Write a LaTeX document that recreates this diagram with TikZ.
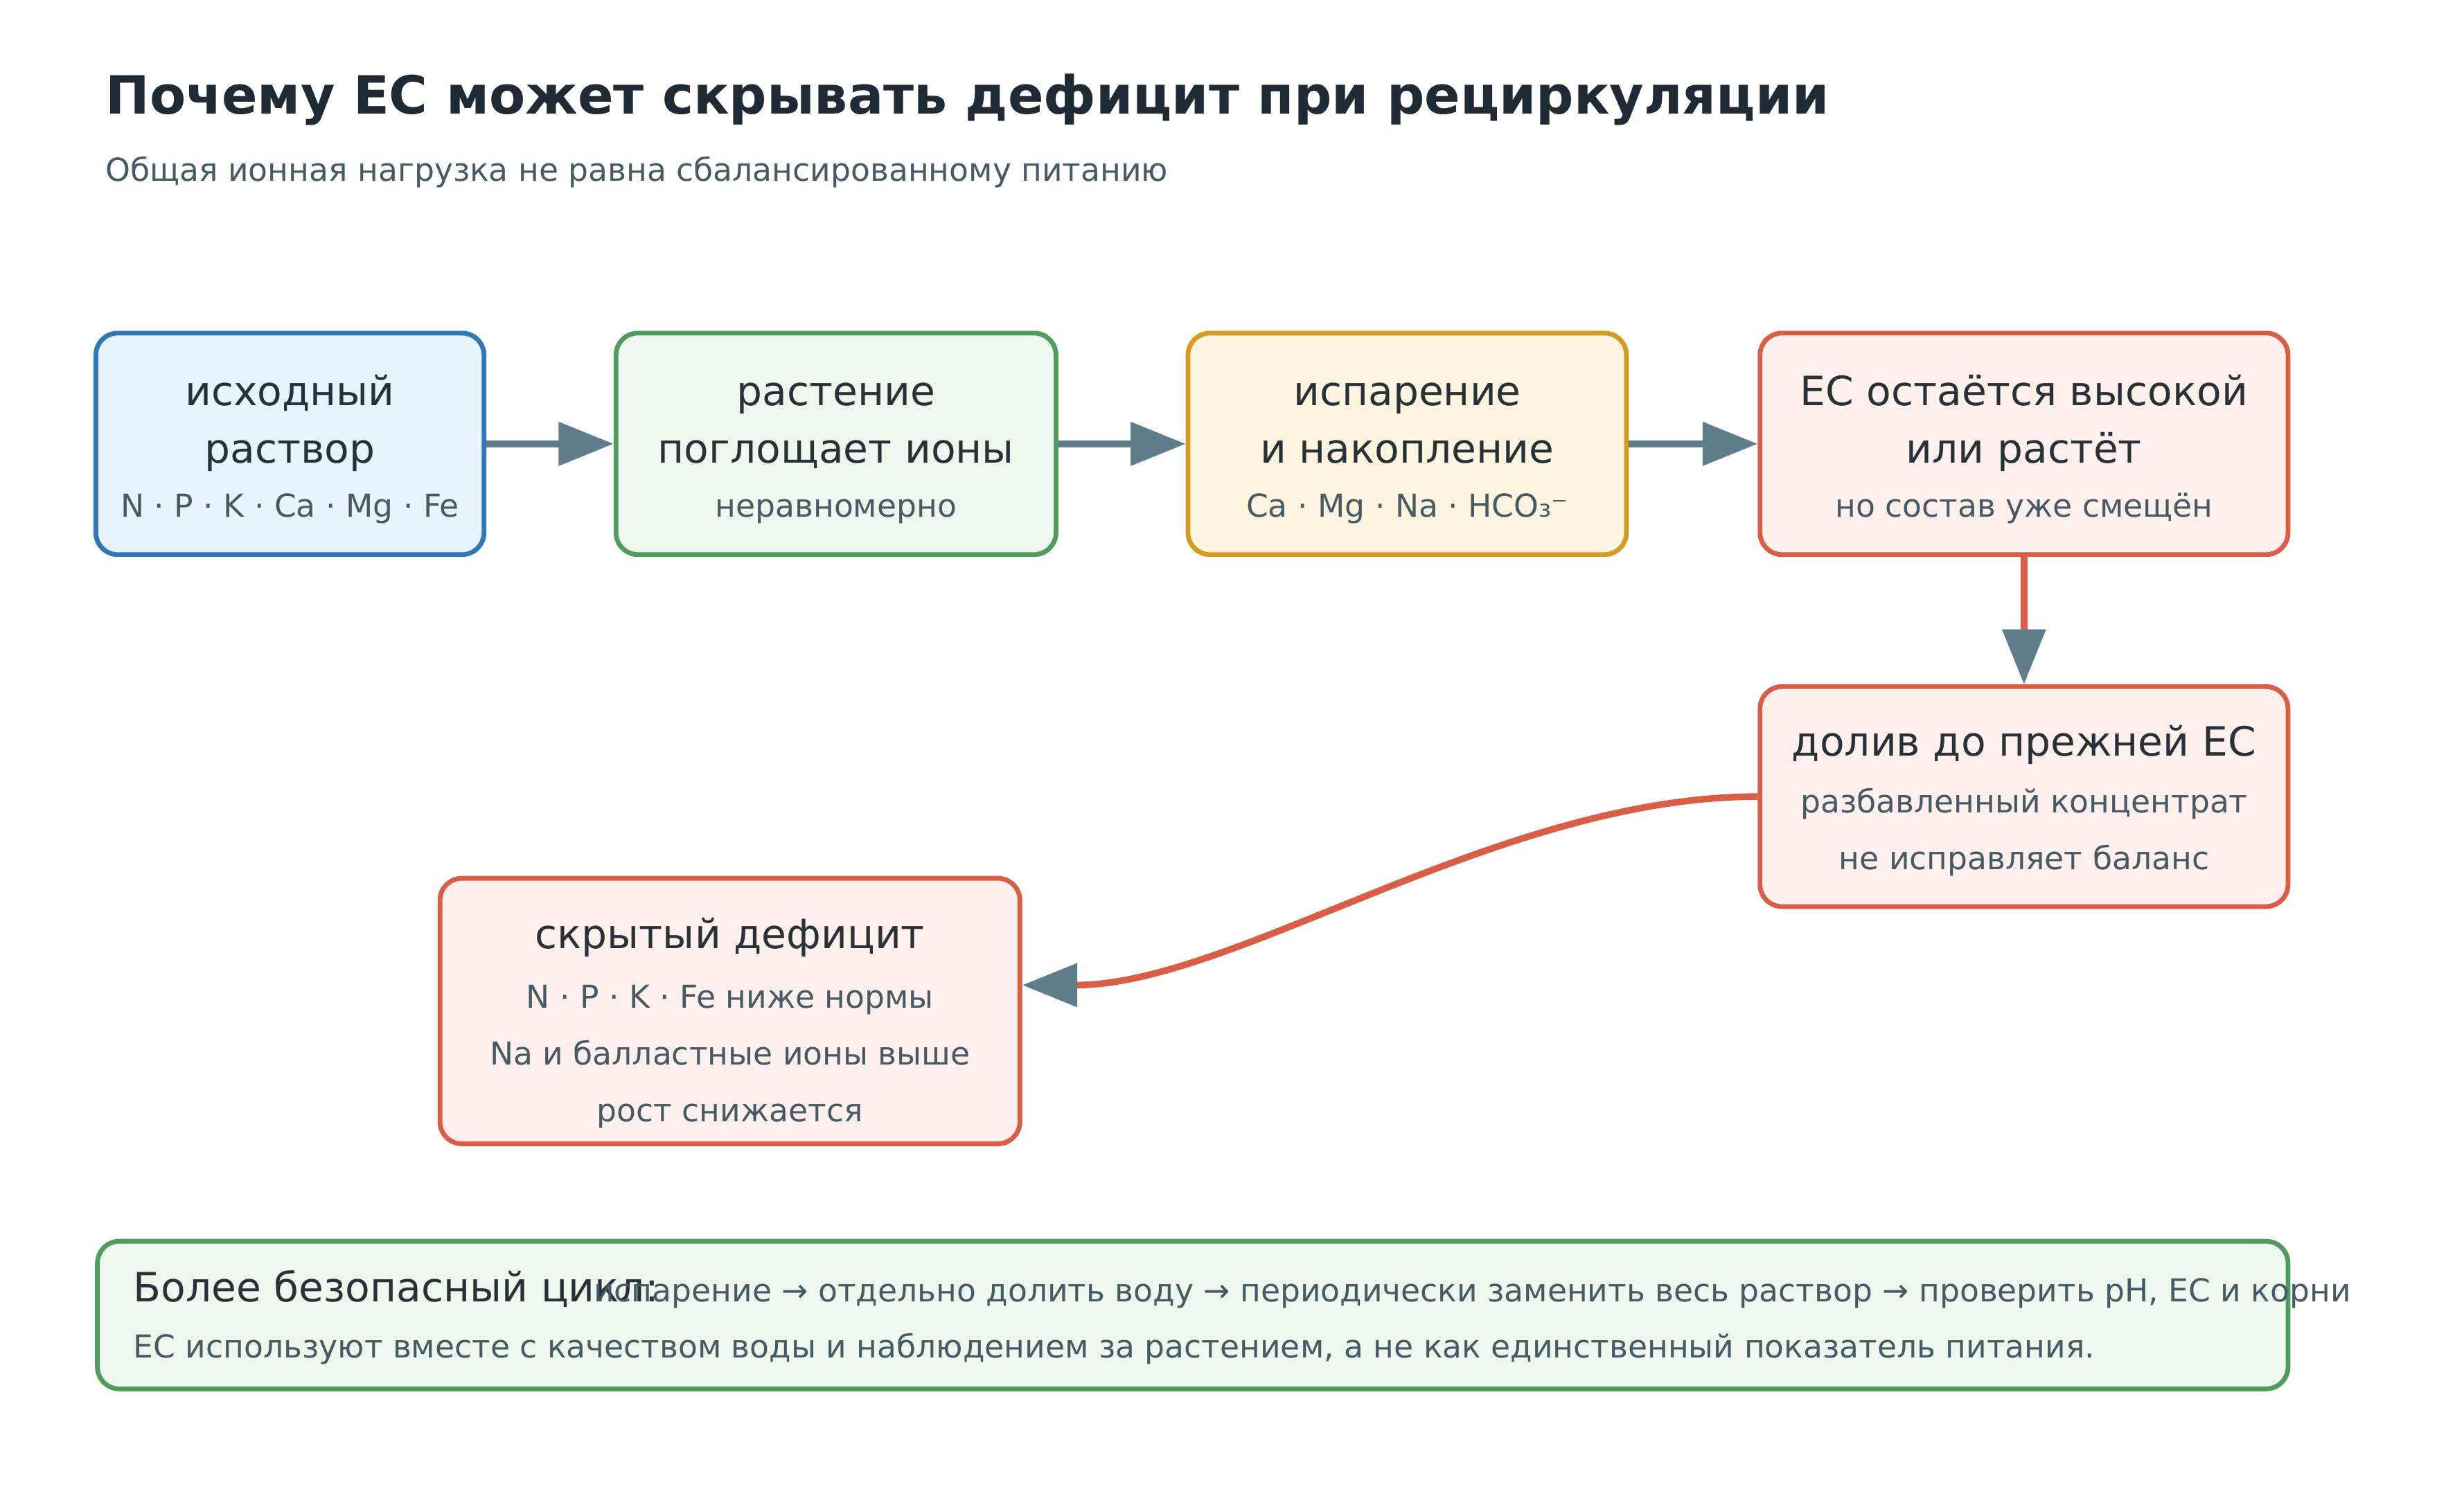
\documentclass[tikz,border=0pt]{standalone}
\usepackage{fontspec}
\setmainfont{DejaVu Sans}
\usetikzlibrary{arrows.meta}

\definecolor{blueB}{HTML}{2F78B8}
\definecolor{blueF}{HTML}{E8F3FB}
\definecolor{greenB}{HTML}{4F9D5D}
\definecolor{greenF}{HTML}{EEF7EE}
\definecolor{amberB}{HTML}{D89B22}
\definecolor{amberF}{HTML}{FDF5E0}
\definecolor{redB}{HTML}{D95E45}
\definecolor{redF}{HTML}{FFF0EE}
\definecolor{slate}{HTML}{607D8B}
\definecolor{ink}{HTML}{263238}
\definecolor{headink}{HTML}{1F2A35}
\definecolor{muted}{HTML}{455A64}

\begin{document}
\begin{tikzpicture}[x=1bp, y=-1bp,
    box/.style={rectangle, rounded corners=14bp, line width=3bp, inner sep=0pt},
    big/.style={anchor=base, inner sep=0pt, text=ink, font=\fontsize{25.7bp}{30bp}\selectfont},
    small/.style={anchor=base, inner sep=0pt, text=muted, font=\fontsize{20.1bp}{24bp}\selectfont},
    flow/.style={line width=4.2bp, draw=slate, -{Triangle[length=35bp, width=27bp]}},
    redflow/.style={line width=4.2bp, draw=redB, -{Triangle[length=35bp, width=27bp, color=slate]}}]
        \useasboundingbox (0,0) rectangle (1568,952);

        % title
        \node[anchor=base west, inner sep=0pt, text=headink, font=\fontsize{33.5bp}{40bp}\selectfont\bfseries] (title) at (67,72.7) {Почему EC может скрывать дефицит при рециркуляции};
        \node[anchor=base west, inner sep=0pt, text=muted, font=\fontsize{20.1bp}{24bp}\selectfont] (subtitle) at (67,115.4) {Общая ионная нагрузка не равна сбалансированному питанию};

        % boxes
        \node[box, draw=blueB, fill=blueF, minimum width=247bp, minimum height=141bp] (src) at (184.5,282.5) {};
        \node[box, draw=greenB, fill=greenF, minimum width=280bp, minimum height=141bp] (uptake) at (532,282.5) {};
        \node[box, draw=amberB, fill=amberF, minimum width=279bp, minimum height=141bp] (evap) at (895.5,282.5) {};
        \node[box, draw=redB, fill=redF, minimum width=336bp, minimum height=141bp] (ec) at (1288,282.5) {};
        \node[box, draw=redB, fill=redF, minimum width=336bp, minimum height=140bp] (topup) at (1288,507) {};
        \node[box, draw=redB, fill=redF, minimum width=369bp, minimum height=169bp] (deficit) at (464.5,643.5) {};
        \node[box, draw=greenB, fill=greenF, minimum width=1394bp, minimum height=94bp] (safe) at (759,837) {};

        % box texts
        \node[big] (src1) at (184.5,257.9) {исходный};
        \node[big] (src2) at (184.5,294.6) {раствор};
        \node[small] (src3) at (184.5,328.9) {N · P · K · Ca · Mg · Fe};
        \node[big] (uptake1) at (532,257.9) {растение};
        \node[big] (uptake2) at (532,294.6) {поглощает ионы};
        \node[small] (uptake3) at (532,328.9) {неравномерно};
        \node[big] (evap1) at (895.5,257.9) {испарение};
        \node[big] (evap2) at (895.5,294.6) {и накопление};
        \node[small] (evap3) at (895.5,328.9) {Ca · Mg · Na · HCO₃⁻};
        \node[big] (ec1) at (1288,257.9) {EC остаётся высокой};
        \node[big] (ec2) at (1288,294.6) {или растёт};
        \node[small] (ec3) at (1288,328.9) {но состав уже смещён};
        \node[big] (topup1) at (1288,481.2) {долив до прежней EC};
        \node[small] (topup2) at (1288,517.5) {разбавленный концентрат};
        \node[small] (topup3) at (1288,553.3) {не исправляет баланс};
        \node[big] (deficit1) at (464.5,603.8) {скрытый дефицит};
        \node[small] (deficit2) at (464.5,641.6) {N · P · K · Fe ниже нормы};
        \node[small] (deficit3) at (464.5,677.8) {Na и балластные ионы выше};
        \node[small] (deficit4) at (464.5,713.9) {рост снижается};
        \node[big, anchor=base west] (safe1) at (84.8,828.7) {Более безопасный цикл:};
        \node[small, anchor=base west] (safe2) at (377.7,828.7) {испарение → отдельно долить воду → периодически заменить весь раствор → проверить pH, EC и корни};
        \node[small, anchor=base west] (safe3) at (84.8,864) {EC используют вместе с качеством воды и наблюдением за растением, а не как единственный показатель питания.};

        % arrows
        \draw[flow] (src) -- (uptake);
        \draw[flow] (uptake) -- (evap);
        \draw[flow] (evap) -- (ec);
        \draw[redflow] (ec) -- (topup);
        \draw[redflow] (topup.west) .. controls +(-165,0) and +(135,0) .. ([yshift=16.5bp]deficit.east);
    \end{tikzpicture}
\end{document}
